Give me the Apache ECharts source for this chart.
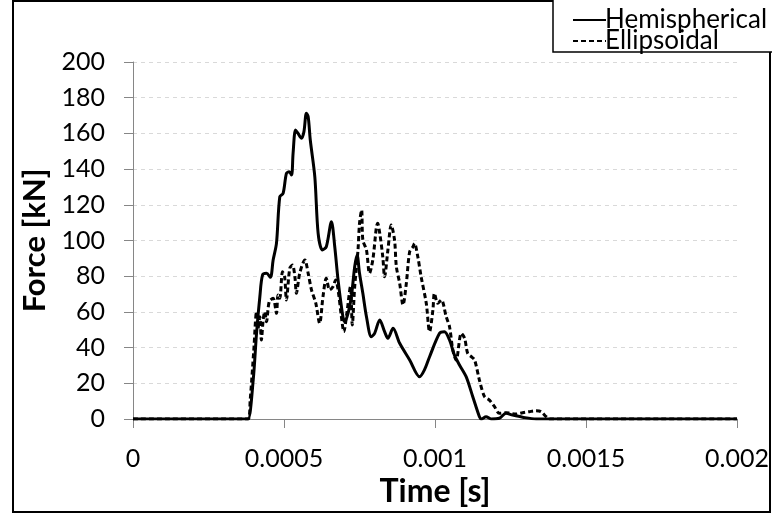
<!DOCTYPE html>
<html>
<head>
<meta charset="utf-8">
<script src="https://cdn.jsdelivr.net/npm/echarts@6/dist/echarts.min.js"></script>
<style>
html,body{margin:0;padding:0;background:#fff;}
#chart{width:772px;height:514px;}
</style>
</head>
<body>
<div id="chart"></div>
<script>
// ---- data (time in seconds, force in kN) ----
const seriesNames = ['Hemispherical', 'Ellipsoidal'];
const xTickLabels = ['0', '0.0005', '0.001', '0.0015', '0.002'];
const yTickLabels = ['0','20','40','60','80','100','120','140','160','180','200'];

const hemiTime = [0, 0.000370, 0.000381, 0.000398, 0.000409, 0.000420, 0.000429, 0.000442, 0.000455, 0.000464,
  0.000475, 0.000486, 0.000497, 0.000508, 0.000517, 0.000525, 0.000530, 0.000538, 0.000546, 0.000558,
  0.000566, 0.000574, 0.000580, 0.000587, 0.000602, 0.000613, 0.000627, 0.000640, 0.000657, 0.000668,
  0.000679, 0.000695, 0.000701, 0.000712, 0.000723, 0.000734, 0.000742, 0.000750, 0.000761, 0.000773,
  0.000789, 0.000800, 0.000817, 0.000833, 0.000844, 0.000861, 0.000883, 0.000916, 0.000949, 0.000965,
  0.000982, 0.001015, 0.001031, 0.001048, 0.001064, 0.001081, 0.001103, 0.001125, 0.001147, 0.001153,
  0.001169, 0.001186, 0.001213, 0.001235, 0.001257, 0.001290, 0.001335, 0.001368, 0.002];
const hemiForce = [0, 0, 0, 21.8, 48.0, 68.5, 80.7, 81.6, 79.4, 89.1,
  98.4, 124.5, 126.4, 137.6, 138.5, 136.7, 148.8, 161.9, 160.1, 157.3,
  161.0, 171.3, 169.4, 156.3, 135.7, 104.0, 94.7, 96.5, 110.5, 96.5,
  77.8, 57.3, 54.5, 59.2, 68.5, 85.3, 91.9, 81.6, 70.4, 57.3,
  46.1, 48.0, 55.5, 48.9, 45.2, 50.8, 42.4, 33.1, 23.7, 27.5,
  34.9, 48.0, 48.9, 44.3, 35.9, 30.3, 23.7, 12.5, 1.3, 0,
  1.3, 0, 0.4, 3.2, 2.2, 1.0, 0, 0, 0];

const ellTime = [0, 0.000381, 0.000388, 0.000400, 0.000409, 0.000414, 0.000420, 0.000425, 0.000431, 0.000436,
  0.000442, 0.000451, 0.000464, 0.000475, 0.000480, 0.000486, 0.000495, 0.000502, 0.000508, 0.000519,
  0.000528, 0.000536, 0.000541, 0.000552, 0.000569, 0.000580, 0.000591, 0.000605, 0.000618, 0.000629,
  0.000640, 0.000651, 0.000662, 0.000671, 0.000679, 0.000690, 0.000698, 0.000708, 0.000720, 0.000726,
  0.000734, 0.000745, 0.000750, 0.000757, 0.000761, 0.000773, 0.000783, 0.000794, 0.000806, 0.000810,
  0.000817, 0.000827, 0.000833, 0.000844, 0.000855, 0.000866, 0.000872, 0.000883, 0.000894, 0.000905,
  0.000916, 0.000927, 0.000932, 0.000943, 0.000954, 0.000971, 0.000982, 0.000993, 0.000998, 0.001009,
  0.001021, 0.001037, 0.001048, 0.001059, 0.001070, 0.001087, 0.001098, 0.001108, 0.001120, 0.001131,
  0.001147, 0.001164, 0.001180, 0.001197, 0.001213, 0.001235, 0.001268, 0.001290, 0.001312, 0.001335,
  0.001351, 0.001368, 0.001379, 0.002];
const ellForce = [0, 0, 10.6, 38.7, 60.1, 50.8, 57.3, 44.3, 55.5, 60.1,
  54.5, 65.7, 67.6, 59.2, 69.5, 67.6, 82.5, 79.7, 66.7, 84.4,
  86.3, 79.7, 70.4, 81.6, 89.1, 81.6, 72.3, 65.0, 53.6, 68.5,
  78.8, 72.3, 74.1, 77.9, 72.3, 57.3, 48.9, 59.2, 74.1, 52.7,
  74.1, 94.7, 109.6, 117.1, 100.3, 94.7, 81.6, 89.1, 107.7, 109.6,
  104.0, 90.9, 79.7, 94.7, 108.7, 100.3, 85.3, 76.0, 63.9, 76.0,
  93.7, 96.5, 98.4, 90.9, 79.7, 64.8, 48.9, 61.1, 70.4, 64.8,
  66.7, 57.3, 51.7, 38.7, 33.1, 48.0, 45.2, 36.8, 34.9, 33.1,
  21.8, 12.5, 10.6, 6.9, 3.2, 3.5, 2.8, 3.5, 4.1, 4.6,
  4.1, 1.3, 0, 0];

function pairs(xs, ys) { return xs.map((x, i) => [x, ys[i]]); }

const FONT = 'Lato';
const chart = echarts.init(document.getElementById('chart'), null, {renderer: 'canvas'});
chart.setOption({
  animation: false,
  backgroundColor: '#ffffff',
  grid: {left: 133, top: 62, width: 605, height: 357, containLabel: false},
  xAxis: {
    type: 'value', min: 0, max: 0.002, interval: 0.0005,
    name: 'Time [s]', nameLocation: 'middle', nameGap: 46,
    nameTextStyle: {fontFamily: FONT, fontWeight: 'bold', fontSize: 32, color: '#000'},
    axisLine: {show: true, lineStyle: {color: '#868686', width: 1}},
    axisTick: {show: true, length: 9, lineStyle: {color: '#868686'}},
    axisLabel: {
      fontFamily: FONT, fontSize: 25, color: '#000', margin: 27,
      formatter: v => xTickLabels[Math.round(v / 0.0005)]
    },
    splitLine: {show: false}
  },
  yAxis: {
    type: 'value', min: 0, max: 200, interval: 20,
    name: 'Force [kN]', nameLocation: 'middle', nameGap: 74, nameRotate: 90,
    nameTextStyle: {fontFamily: FONT, fontWeight: 'bold', fontSize: 31, color: '#000'},
    axisLine: {show: true, lineStyle: {color: '#868686', width: 1}},
    axisTick: {show: true, length: 9, lineStyle: {color: '#868686'}},
    axisLabel: {
      fontFamily: FONT, fontSize: 25, color: '#000', margin: 28,
      formatter: v => yTickLabels[Math.round(v / 20)]
    },
    splitLine: {show: true, lineStyle: {color: '#d9d9d9', type: [4, 4], width: 1}}
  },
  legend: {
    orient: 'vertical', left: 567, top: 2, itemWidth: 33, itemHeight: 12, itemGap: -5,
    z: 100, zlevel: 1,
    data: seriesNames,
    itemStyle: {opacity: 0},
    lineStyle: {width: 2},
    textStyle: {fontFamily: FONT, fontSize: 26, lineHeight: 22, color: '#000', padding: [0, 0, 0, -6]},
    selectedMode: false
  },
  graphic: [
    {type: 'rect', shape: {x: 13, y: 1, width: 757, height: 511}, style: {fill: 'none', stroke: '#000', lineWidth: 2}, z: -10},
    {type: 'rect', shape: {x: 553, y: -2, width: 224, height: 54}, style: {fill: '#fff', stroke: '#000', lineWidth: 1.5}, z: 0}
  ],
  series: [
    {
      name: seriesNames[0], type: 'line', data: pairs(hemiTime, hemiForce),
      symbol: 'none', smooth: 0.3, z: 5, color: '#000',
      lineStyle: {color: '#000', width: 3, type: 'solid'}
    },
    {
      name: seriesNames[1], type: 'line', data: pairs(ellTime, ellForce),
      symbol: 'none', smooth: 0.3, z: 4, color: '#000',
      lineStyle: {color: '#000', width: 3, type: [5, 3]}
    }
  ]
});
</script>
</body>
</html>
